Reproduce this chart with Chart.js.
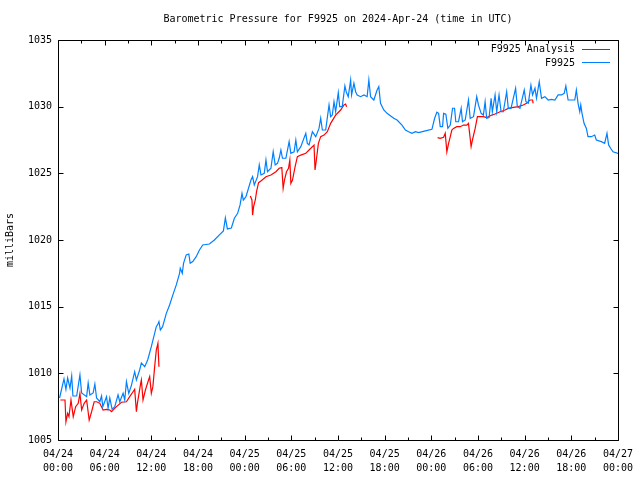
<!DOCTYPE html>
<html>
<head>
<meta charset="utf-8">
<script src="https://cdn.jsdelivr.net/npm/chart.js@4"></script>
<style>
html,body{margin:0;padding:0;background:#fff;}
canvas{display:block;}
</style>
</head>
<body>
<canvas id="c" width="640" height="480"></canvas>
<script>
// ---- data (hours since 2024-04-24 00:00 UTC) ----
const blueHours = [0.2,0.77,1.02,1.24,1.54,1.76,1.92,2.40,2.82,3.04,3.68,3.88,4.10,4.52,4.74,4.96,5.38,5.60,5.76,6.24,6.44,6.66,6.96,7.30,7.72,7.94,8.37,8.58,8.80,9.10,9.44,9.86,10.08,10.50,10.72,11.15,11.53,12.0,12.64,12.85,12.98,13.16,13.45,13.93,14.35,14.77,15.21,15.63,15.72,15.98,16.14,16.49,16.82,17.0,17.33,17.77,18.19,18.61,19.47,20.11,20.75,21.27,21.52,21.78,22.29,22.68,23.10,23.41,23.66,23.83,24.17,24.81,25.02,25.24,25.66,25.88,26.10,26.52,26.74,26.94,27.38,27.67,27.93,28.22,28.44,28.66,28.86,29.30,29.72,29.94,30.36,30.58,30.78,31.22,31.86,32.06,32.28,32.71,33.14,33.56,33.78,33.99,34.42,34.85,35.06,35.27,35.49,35.70,36.04,36.22,36.55,36.89,37.06,37.32,37.63,37.75,38.05,38.27,38.47,38.91,39.33,39.75,39.97,40.19,40.61,41.03,41.25,41.47,41.89,42.31,43.17,43.60,44.23,44.67,45.09,45.52,45.95,46.38,47.23,48.08,48.43,48.72,48.94,49.15,49.45,49.58,49.87,50.13,50.44,50.73,50.99,51.15,51.50,51.84,52.01,52.36,52.78,53.0,53.43,53.84,54.06,54.41,54.70,54.92,55.12,55.43,55.69,55.85,56.20,56.41,56.71,56.97,57.26,57.69,57.90,58.25,58.84,59.06,59.40,59.95,60.17,60.47,60.81,61.02,61.33,61.53,61.88,62.17,62.61,63.03,63.45,63.89,64.31,64.74,65.09,65.30,65.59,66.02,66.45,66.65,66.87,67.09,67.22,67.38,67.64,67.94,68.15,68.58,69.01,69.22,69.86,70.29,70.59,70.80,71.06,71.36,72.0];
const blueValues = [1008.15,1009.58,1008.8,1009.65,1008.9,1009.8,1008.3,1008.3,1009.88,1008.53,1008.25,1009.28,1008.38,1008.53,1009.2,1008.15,1007.87,1008.3,1007.5,1008.25,1007.38,1008.15,1007.3,1007.5,1008.38,1007.87,1008.5,1008.0,1009.37,1008.5,1009.1,1010.12,1009.5,1010.25,1010.78,1010.5,1011.0,1012.0,1013.5,1013.7,1013.88,1013.25,1013.5,1014.5,1015.13,1015.88,1016.63,1017.5,1017.88,1017.5,1018.25,1018.88,1018.95,1018.25,1018.38,1018.75,1019.25,1019.63,1019.7,1020.0,1020.38,1020.68,1021.65,1020.83,1020.9,1021.63,1022.0,1022.63,1023.5,1023.0,1023.25,1024.5,1024.75,1024.13,1024.75,1025.63,1024.88,1025.0,1026.0,1025.12,1025.38,1026.62,1025.63,1025.75,1026.13,1026.75,1026.13,1026.13,1027.38,1026.5,1026.62,1027.5,1026.62,1027.0,1028.0,1027.25,1027.13,1028.12,1027.75,1028.37,1029.13,1028.25,1028.25,1030.13,1029.25,1029.37,1030.37,1029.62,1031.05,1030.0,1030.0,1031.55,1031.12,1030.75,1032.0,1030.88,1031.75,1031.12,1030.88,1030.75,1030.88,1030.75,1032.0,1030.75,1030.5,1031.25,1031.5,1030.25,1029.75,1029.5,1029.13,1029.0,1028.62,1028.25,1028.12,1028.0,1028.12,1028.05,1028.18,1028.3,1029.13,1029.58,1029.5,1028.5,1028.5,1029.5,1029.43,1028.38,1028.62,1029.88,1029.88,1028.87,1028.87,1029.88,1028.87,1029.0,1030.5,1029.13,1029.25,1030.75,1030.13,1029.5,1029.37,1030.37,1029.13,1029.18,1030.63,1029.62,1030.88,1029.62,1030.88,1029.62,1029.62,1031.12,1029.87,1029.87,1031.38,1030.0,1029.87,1031.25,1030.37,1030.25,1031.62,1030.88,1031.38,1030.63,1031.87,1030.63,1030.75,1030.5,1030.55,1030.5,1030.88,1030.88,1031.0,1031.55,1030.5,1030.5,1030.5,1031.25,1030.25,1029.62,1030.13,1029.5,1028.75,1028.37,1027.75,1027.75,1027.87,1027.5,1027.38,1027.25,1028.0,1027.13,1026.88,1026.62,1026.5];

const redHours = [0.3,0.9,1.02,1.24,1.41,1.67,1.96,2.27,2.60,2.82,3.04,3.37,3.68,4.01,4.32,4.65,4.96,5.38,5.80,6.24,6.66,6.88,7.52,8.16,8.80,9.22,9.65,9.86,10.08,10.21,10.63,10.72,10.93,11.24,11.57,11.79,12.0,12.2,12.43,12.64,12.85,12.98,
  18.0,
  24.73,24.94,25.02,25.15,25.37,25.53,25.79,26.09,26.74,27.38,28.02,28.44,28.78,28.95,29.12,29.38,29.64,29.81,29.94,30.15,30.49,30.78,31.22,31.86,32.28,32.92,33.05,33.22,33.48,33.78,34.21,34.63,35.06,35.70,36.34,36.77,36.98,37.11,
  42.0,
  48.81,49.15,49.58,49.79,50.0,50.22,50.44,50.64,50.86,51.28,51.71,52.14,52.57,52.78,53.0,53.12,53.29,53.64,53.93,54.27,54.70,55.12,55.34,55.77,56.2,56.84,57.48,57.9,58.55,59.19,59.83,60.25,60.68,61.02,61.1];
const redValues = [1008.0,1008.0,1006.37,1007.0,1006.75,1008.0,1006.75,1007.5,1007.75,1008.5,1007.25,1007.75,1008.0,1006.5,1007.12,1007.87,1007.87,1007.75,1007.25,1007.3,1007.25,1007.12,1007.5,1007.83,1007.87,1008.25,1008.62,1008.8,1007.12,1007.75,1009.25,1009.5,1008.0,1008.75,1009.37,1009.75,1008.5,1009.0,1010.5,1011.75,1012.25,1010.5,
  null,
  1023.3,1023.0,1021.87,1022.5,1023.0,1023.62,1024.3,1024.43,1024.75,1024.87,1025.12,1025.38,1025.43,1023.87,1024.5,1025.12,1025.38,1026.0,1024.25,1024.5,1025.5,1026.25,1026.37,1026.5,1026.75,1027.12,1025.25,1026.0,1027.25,1027.75,1027.87,1028.12,1028.75,1029.37,1029.75,1030.13,1030.2,1030.0,
  null,
  1027.68,1027.62,1027.7,1028.0,1026.62,1027.25,1027.75,1028.25,1028.37,1028.5,1028.5,1028.62,1028.62,1028.75,1027.62,1027.0,1027.5,1028.37,1029.25,1029.25,1029.25,1029.18,1029.25,1029.37,1029.45,1029.62,1029.75,1029.87,1029.95,1030.0,1030.12,1030.25,1030.5,1030.5,1030.25];

const xTickDates = ['04/24','04/24','04/24','04/24','04/25','04/25','04/25','04/25','04/26','04/26','04/26','04/26','04/27'];
const xTickTimes = ['00:00','06:00','12:00','18:00','00:00','06:00','12:00','18:00','00:00','06:00','12:00','18:00','00:00'];
const yTickValues = [1005,1010,1015,1020,1025,1030,1035];

const chartTitle = 'Barometric Pressure for F9925 on 2024-Apr-24 (time in UTC)';
const yAxisTitle = 'milliBars';
const seriesNames = ['F9925 Analysis','F9925'];
const BLUE = '#0080ff', RED = '#ff0000';
const FONT = '"DejaVu Sans Mono", "Liberation Mono", monospace';

const toPts = (hs, vs) => hs.map((h, i) => ({x: h, y: vs[i]}));

const framePlugin = {
  id: 'frame',
  afterDraw(chart) {
    const ctx = chart.ctx;
    const a = chart.chartArea;
    const xs = chart.scales.x, ys = chart.scales.y;
    const L = Math.round(a.left) + 0.5, R = Math.round(a.right) + 0.5;
    const T = Math.round(a.top) + 0.5, B = Math.round(a.bottom) + 0.5;
    ctx.save();
    ctx.strokeStyle = '#000';
    ctx.lineWidth = 1;
    ctx.beginPath();
    ctx.rect(L, T, R - L, B - T);
    ctx.stroke();
    // x ticks: major each 6h, minor each 3h, on bottom and top
    ctx.beginPath();
    for (let h = 0; h <= 72; h += 3) {
      const px = Math.round(xs.getPixelForValue(h)) + 0.5;
      const len = (h % 6 === 0) ? 5 : 3;
      ctx.moveTo(px, B); ctx.lineTo(px, B - len);
      ctx.moveTo(px, T); ctx.lineTo(px, T + len);
    }
    yTickValues.forEach(v => {
      const py = Math.round(ys.getPixelForValue(v)) + 0.5;
      ctx.moveTo(L, py); ctx.lineTo(L + 5, py);
      ctx.moveTo(R, py); ctx.lineTo(R - 5, py);
    });
    ctx.stroke();
    // title
    ctx.fillStyle = '#000';
    ctx.font = '10px ' + FONT;
    ctx.textAlign = 'center';
    ctx.textBaseline = 'middle';
    ctx.fillText(chartTitle, (a.left + a.right) / 2, 19.5);
    // legend
    ctx.textAlign = 'right';
    const rows = [[seriesNames[0], RED, 49.5], [seriesNames[1], BLUE, 63]];
    rows.forEach(([t, c, y]) => {
      ctx.fillStyle = '#000';
      ctx.fillText(t, 575, y);
      ctx.strokeStyle = c;
      ctx.beginPath();
      ctx.moveTo(582, Math.round(y) - 0.5); ctx.lineTo(610, Math.round(y) - 0.5);
      ctx.stroke();
    });
    ctx.restore();
  }
};

new Chart(document.getElementById('c'), {
  type: 'line',
  data: {
    datasets: [
      {label: seriesNames[1], data: toPts(blueHours, blueValues), borderColor: BLUE, borderWidth: 1.2, pointRadius: 0, tension: 0, fill: false},
      {label: seriesNames[0], data: toPts(redHours, redValues), borderColor: RED, borderWidth: 1.2, pointRadius: 0, tension: 0, fill: false, spanGaps: false}
    ]
  },
  options: {
    responsive: false,
    animation: false,
    devicePixelRatio: 1,
    layout: {padding: {top: 40, right: 20, left: 0, bottom: 0}},
    plugins: {legend: {display: false}, title: {display: false}, tooltip: {enabled: false}},
    scales: {
      x: {
        type: 'linear', min: 0, max: 72,
        afterBuildTicks: s => { s.ticks = xTickDates.map((d, i) => ({value: i * 6})); },
        ticks: {
          autoSkip: false, maxRotation: 0, minRotation: 0, padding: 7, color: '#000',
          font: {family: FONT, size: 10, lineHeight: 1.4},
          callback: (v, i) => [xTickDates[i], xTickTimes[i]]
        },
        grid: {drawOnChartArea: false, drawTicks: false},
        border: {display: false},
        afterFit: s => { s.height = 40; }
      },
      y: {
        type: 'linear', min: 1005, max: 1035,
        afterBuildTicks: s => { s.ticks = yTickValues.map(v => ({value: v})); },
        ticks: {padding: 6, color: '#000', font: {family: FONT, size: 10}, callback: v => String(v)},
        grid: {drawOnChartArea: false, drawTicks: false},
        border: {display: false},
        title: {display: true, text: yAxisTitle, color: '#000', font: {family: FONT, size: 10}, padding: {top: 4, bottom: 0}},
        afterFit: s => { s.width = 58; }
      }
    }
  },
  plugins: [framePlugin]
});
</script>
</body>
</html>
